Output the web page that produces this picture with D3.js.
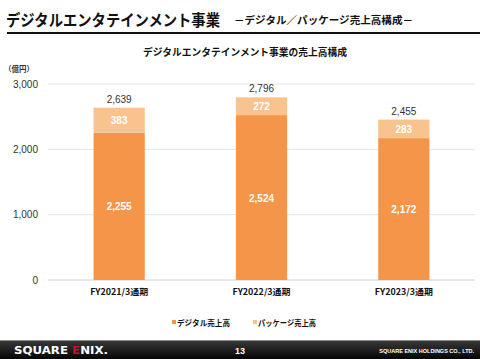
<!DOCTYPE html>
<html>
<head>
<meta charset="utf-8">
<script src="https://cdn.jsdelivr.net/npm/d3@7"></script>
<style>
  body { margin: 0; background: #fff; }
  svg { display: block; font-family: "Noto Sans CJK JP", "Noto Sans", sans-serif; }
</style>
</head>
<body>
<svg id="chart" width="480" height="359"></svg>
<script>
// data
const categories = ["FY2021/3通期", "FY2022/3通期", "FY2023/3通期"];
const digital = [2255, 2524, 2172];
const packaged = [383, 272, 283];
const totals = [2639, 2796, 2455];
const seriesNames = ["デジタル売上高", "パッケージ売上高"];
const yTicks = [0, 1000, 2000, 3000];

const colors = { digital: "#F5954A", packaged: "#F8C38F" };

const width = 480, height = 359;
const margins = { top: 84, bottom: 79, left: 48, right: 5 };

const svg = d3.select("#chart");

// page header
svg.append("text")
  .attr("x", 6).attr("y", 26)
  .attr("font-size", 16).attr("font-weight", "bold")
  .attr("fill", "#111")
  .attr("textLength", 214).attr("lengthAdjust", "spacingAndGlyphs")
  .text("デジタルエンタテインメント事業");

svg.append("text")
  .attr("x", 234).attr("y", 24)
  .attr("font-size", 10.5).attr("font-weight", "bold")
  .attr("fill", "#111")
  .attr("textLength", 179).attr("lengthAdjust", "spacingAndGlyphs")
  .text("－デジタル／パッケージ売上高構成－");

svg.append("line")
  .attr("x1", 7).attr("x2", 480)
  .attr("y1", 33).attr("y2", 33)
  .attr("stroke", "#111").attr("stroke-width", 2);

// chart title
svg.append("text")
  .attr("x", 143).attr("y", 56)
  .attr("font-size", 10).attr("font-weight", "bold")
  .attr("fill", "#111")
  .attr("textLength", 204).attr("lengthAdjust", "spacingAndGlyphs")
  .text("デジタルエンタテインメント事業の売上高構成");

svg.append("text")
  .attr("x", 4).attr("y", 72)
  .attr("font-size", 7.5).attr("font-weight", "bold")
  .attr("fill", "#333")
  .text("（億円）");

// scales
const x = d3.scaleBand()
  .domain(categories)
  .range([margins.left, width - margins.right])
  .paddingInner(0.64)
  .paddingOuter(0.32);

const y = d3.scaleLinear()
  .domain([0, 3000])
  .range([280, 84]);

const fmt = d3.format(",");

// gridlines
svg.append("g")
  .selectAll("line")
  .data(yTicks)
  .join("line")
  .attr("x1", margins.left).attr("x2", width - margins.right)
  .attr("y1", d => y(d)).attr("y2", d => y(d))
  .attr("stroke", d => d === 0 ? "#d0d0d0" : "#e4e4e4")
  .attr("stroke-width", 1);

// y axis labels
svg.append("g")
  .selectAll("text")
  .data(yTicks)
  .join("text")
  .attr("x", 38)
  .attr("y", d => y(d) + 3.5)
  .attr("text-anchor", "end")
  .attr("font-family", "Liberation Sans, Arial, sans-serif")
  .attr("font-size", 10)
  .attr("fill", "#333")
  .text(d => fmt(d));

const rows = categories.map((c, i) => ({
  cat: c, digital: digital[i], packaged: packaged[i], total: totals[i]
}));

const bars = svg.append("g")
  .selectAll("g.bar")
  .data(rows)
  .join("g")
  .attr("class", "bar");

bars.append("rect")
  .attr("x", d => x(d.cat))
  .attr("width", x.bandwidth())
  .attr("y", d => y(d.digital))
  .attr("height", d => y(0) - y(d.digital))
  .attr("fill", colors.digital);

bars.append("rect")
  .attr("x", d => x(d.cat))
  .attr("width", x.bandwidth())
  .attr("y", d => y(d.digital + d.packaged))
  .attr("height", d => y(d.digital) - y(d.digital + d.packaged))
  .attr("fill", colors.packaged);

// value labels
bars.append("text")
  .attr("x", d => x(d.cat) + x.bandwidth() / 2)
  .attr("y", d => y(d.digital / 2) + 4)
  .attr("text-anchor", "middle")
  .attr("font-family", "Liberation Sans, Arial, sans-serif")
  .attr("font-size", 10).attr("font-weight", "bold")
  .attr("fill", "#fff")
  .text(d => fmt(d.digital));

bars.append("text")
  .attr("x", d => x(d.cat) + x.bandwidth() / 2)
  .attr("y", d => y(d.digital + d.packaged / 2) + 4)
  .attr("text-anchor", "middle")
  .attr("font-family", "Liberation Sans, Arial, sans-serif")
  .attr("font-size", 10).attr("font-weight", "bold")
  .attr("fill", "#fff")
  .text(d => fmt(d.packaged));

bars.append("text")
  .attr("x", d => x(d.cat) + x.bandwidth() / 2)
  .attr("y", d => y(d.total) - 5)
  .attr("text-anchor", "middle")
  .attr("font-family", "Liberation Sans, Arial, sans-serif")
  .attr("font-size", 10)
  .attr("fill", "#333")
  .text(d => fmt(d.total));

// category labels
bars.append("text")
  .attr("x", d => x(d.cat) + x.bandwidth() / 2 - 29)
  .attr("y", 295)
  .attr("font-size", 8.5).attr("font-weight", "bold")
  .attr("fill", "#111")
  .attr("textLength", 58).attr("lengthAdjust", "spacingAndGlyphs")
  .text(d => d.cat);

// legend
const legend = svg.append("g")
  .selectAll("g")
  .data(seriesNames)
  .join("g")
  .attr("transform", (d, i) => `translate(${i === 0 ? 172 : 253}, 323)`);

legend.append("rect")
  .attr("y", -3).attr("width", 4).attr("height", 4)
  .attr("fill", (d, i) => i === 0 ? colors.digital : colors.packaged);

legend.append("text")
  .attr("x", 5).attr("y", 2.5)
  .attr("font-size", 8).attr("font-weight", "bold")
  .attr("fill", "#111")
  .attr("textLength", (d, i) => i === 0 ? 53 : 58)
  .attr("lengthAdjust", "spacingAndGlyphs")
  .text(d => d);

// footer
const grad = svg.append("defs").append("linearGradient")
  .attr("id", "foot").attr("x1", 0).attr("x2", 0).attr("y1", 0).attr("y2", 1);
grad.append("stop").attr("offset", "0%").attr("stop-color", "#3a3a3a");
grad.append("stop").attr("offset", "100%").attr("stop-color", "#050505");

svg.append("rect")
  .attr("x", 0).attr("y", 340).attr("width", width).attr("height", 19)
  .attr("fill", "url(#foot)");
svg.append("line")
  .attr("x1", 0).attr("x2", width).attr("y1", 340.5).attr("y2", 340.5)
  .attr("stroke", "#8a8a8a");

const logo = svg.append("text")
  .attr("x", 14).attr("y", 354)
  .attr("font-family", "DejaVu Sans, sans-serif")
  .attr("font-size", 11).attr("font-weight", "bold")
  .attr("fill", "#fff")
  .attr("textLength", 94)
  .attr("lengthAdjust", "spacingAndGlyphs");
logo.append("tspan").text("SQUARE ");
logo.append("tspan").attr("fill", "#c8102e").text("E");
logo.append("tspan").text("NIX.");

svg.append("text")
  .attr("x", 240).attr("y", 354)
  .attr("text-anchor", "middle")
  .attr("font-family", "Liberation Sans, Arial, sans-serif")
  .attr("font-size", 9).attr("font-weight", "bold")
  .attr("fill", "#fff")
  .text("13");

svg.append("text")
  .attr("x", 474).attr("y", 353)
  .attr("text-anchor", "end")
  .attr("font-family", "Liberation Sans, Arial, sans-serif")
  .attr("font-size", 5.5).attr("font-weight", "bold")
  .attr("fill", "#fff")
  .text("SQUARE ENIX HOLDINGS CO., LTD.");
</script>
</body>
</html>
